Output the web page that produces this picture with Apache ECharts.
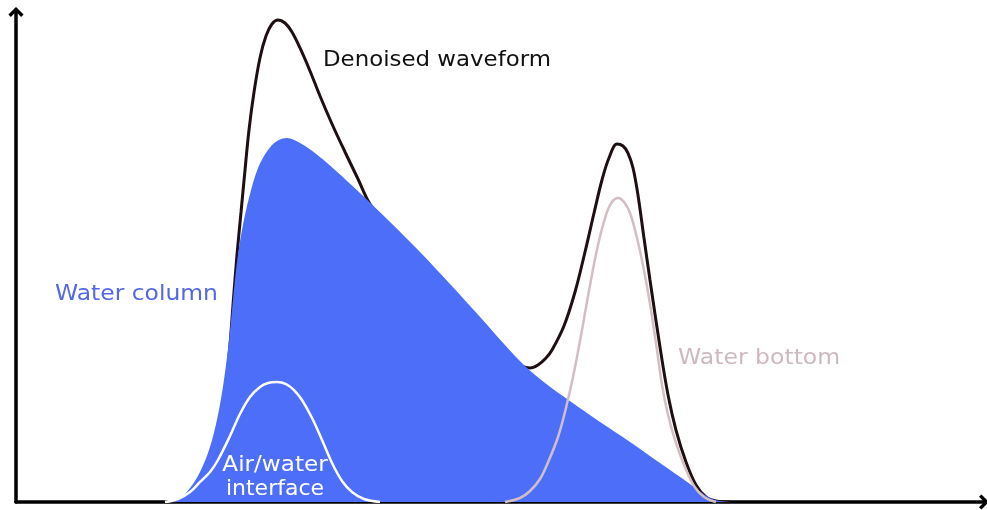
<!DOCTYPE html>
<html>
<head>
<meta charset="utf-8">
<script src="https://cdn.jsdelivr.net/npm/echarts@6/dist/echarts.min.js"></script>
<style>
html,body{margin:0;padding:0;background:#fff;}
#chart{width:987px;height:510px;}
</style>
</head>
<body>
<div id="chart"></div>
<script>
// Values (arbitrary units: x 0-100, y 0-100)
const denoisedWaveform = [
  [15.88,0],[17.42,0.61],[18.45,2.44],[19.48,5.49],[20.41,10.57],[21.13,17.07],[21.65,23.78],
  [22.06,31.91],[22.37,40.04],[22.78,50.20],[23.20,58.94],[23.61,67.48],[24.02,75.61],[24.54,83.33],
  [25.15,90.24],[25.77,94.72],[26.39,97.15],[27.01,97.97],[27.73,97.36],[28.45,95.53],[29.28,92.28],
  [30.31,87.60],[31.34,82.52],[32.58,76.83],[33.92,71.14],[35.26,65.65],[36.49,60.57],[38.04,56.91],
  [41.65,49.80],[44.74,43.29],[47.84,36.59],[49.90,32.11],[51.44,28.86],[52.16,27.64],[52.99,27.24],
  [53.81,27.85],[54.64,29.27],[55.26,30.89],[56.49,35.77],[57.63,42.68],[58.66,50.81],[59.59,58.74],
  [60.41,65.45],[61.13,69.92],[61.96,72.76],[62.58,72.36],[63.09,70.93],[63.61,67.89],[64.12,62.40],
  [64.74,53.66],[65.36,45.12],[66.39,31.50],[67.22,21.75],[68.04,14.63],[69.07,8.13],[70.10,3.46],
  [71.13,1.02],[72.16,0.20],[73.61,0]
];
const waterColumn = [
  [15.36,0],[16.70,0.41],[17.94,2.85],[18.97,6.10],[20.00,11.18],[20.82,17.68],[21.44,24.80],
  [21.96,32.93],[22.37,41.06],[22.78,48.78],[23.30,55.28],[24.02,61.79],[24.95,67.89],[25.98,71.54],
  [26.91,73.37],[27.94,73.98],[29.28,72.97],[30.82,70.93],[32.89,67.48],[35.46,62.80],[38.56,56.91],
  [41.65,50.81],[44.74,44.31],[47.84,37.60],[50.41,31.91],[52.47,27.64],[54.54,24.19],[57.11,20.53],
  [60.21,16.26],[63.30,12.20],[66.39,7.93],[69.48,3.66],[71.03,1.42],[72.06,0.41],[73.61,0]
];
const airWaterInterface = [
  [15.36,0],[16.70,0.61],[17.94,2.03],[18.97,4.07],[20.00,6.10],[20.82,8.54],[22.06,13.41],
  [23.09,17.89],[24.12,21.34],[25.15,23.37],[25.98,24.19],[26.91,24.39],[27.84,23.98],[28.66,22.76],
  [29.48,20.73],[30.52,17.07],[31.55,12.60],[32.58,7.93],[33.61,4.27],[34.64,2.03],[35.88,0.61],[37.53,0]
];
const waterBottom = [
  [50.41,0],[51.96,0.81],[52.99,2.24],[54.02,4.67],[54.95,8.54],[55.88,13.21],[56.70,19.11],
  [57.53,26.42],[58.35,34.96],[59.18,44.11],[60.00,52.24],[60.82,58.33],[61.44,60.98],[62.06,61.79],
  [62.68,60.98],[63.30,58.74],[64.02,53.66],[64.74,47.15],[65.46,39.02],[66.08,30.89],[66.60,23.78],
  [67.22,17.68],[67.94,12.60],[68.87,7.52],[69.90,3.25],[70.93,1.02],[72.16,0]
];
const labels = ['Denoised waveform', 'Water column', 'Water bottom', 'Air/water', 'interface'];

const chart = echarts.init(document.getElementById('chart'), null, {renderer: 'canvas'});
const FONT = '"DejaVu Sans", sans-serif';
const chevron = 'path://M5,0 L10,5 L8.4,6.6 L5,3.2 L1.6,6.6 L0,5 Z';
const axisLine = {
  show: true,
  symbol: ['none', chevron],
  symbolSize: [16, 10],
  symbolOffset: [0, -2],
  lineStyle: {color: '#000', width: 3.5}
};
const SM = 0.35;
function label(text, x, y, size, color, sx, align) {
  return {
    type: 'text', x: x, y: y, scaleX: sx, z: 10,
    style: {text: text, x: 0, y: 0, font: size + 'px ' + FONT, fill: color,
            textAlign: align || 'left', textVerticalAlign: 'middle'}
  };
}
chart.setOption({
  animation: false,
  backgroundColor: '#fff',
  grid: {left: 16, right: 1, top: 10, bottom: 8, containLabel: false},
  xAxis: {
    type: 'value', min: 0, max: 100,
    axisLine: axisLine, axisTick: {show: false}, axisLabel: {show: false}, splitLine: {show: false}
  },
  yAxis: {
    type: 'value', min: 0, max: 100,
    axisLine: axisLine, axisTick: {show: false}, axisLabel: {show: false}, splitLine: {show: false}
  },
  series: [
    {
      name: labels[0], type: 'line', data: denoisedWaveform, smooth: SM, showSymbol: false,
      lineStyle: {color: '#1e0f10', width: 3}, z: 2
    },
    {
      name: labels[1], type: 'line', data: waterColumn, smooth: SM, showSymbol: false,
      lineStyle: {width: 0}, areaStyle: {color: '#4d6ef8', opacity: 1}, z: 3
    },
    {
      name: labels[2], type: 'line', data: waterBottom, smooth: SM, showSymbol: false,
      lineStyle: {color: '#d3bec4', width: 2.5}, z: 4
    },
    {
      name: labels[3], type: 'line', data: airWaterInterface, smooth: SM, showSymbol: false,
      lineStyle: {color: '#ffffff', width: 2.5}, z: 5
    }
  ],
  graphic: [
    label(labels[0], 323, 60, 22, '#111111', 1.04),
    label(labels[1], 55, 294, 22, '#5468e6', 1.065),
    label(labels[2], 678, 358, 22, '#cdb9bf', 1.07),
    label(labels[3], 275, 465, 22, '#ffffff', 1.05, 'center'),
    label(labels[4], 275, 489, 22, '#ffffff', 1.0, 'center')
  ]
});
</script>
</body>
</html>
